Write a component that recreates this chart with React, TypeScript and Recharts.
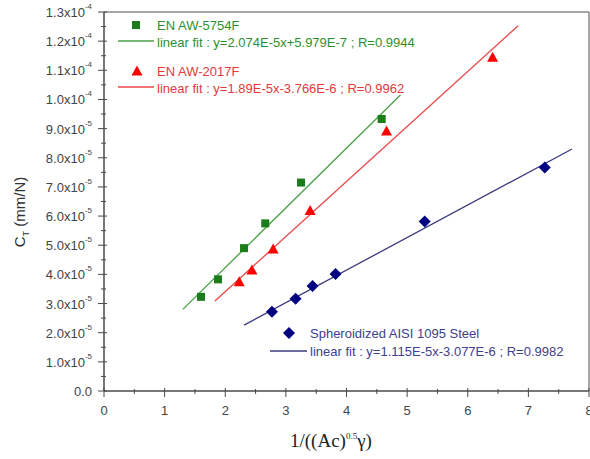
import React from 'react';
import { ScatterChart, Scatter, XAxis, YAxis, ReferenceLine } from 'recharts';

// EN AW-5754F measured points
const al5754X = [1.6, 1.88, 2.31, 2.66, 3.25, 4.58];
const al5754Y = [3.23e-5, 3.83e-5, 4.9e-5, 5.75e-5, 7.15e-5, 9.33e-5];
// EN AW-2017F measured points
const al2017X = [2.23, 2.44, 2.79, 3.4, 4.66, 6.41];
const al2017Y = [3.75e-5, 4.15e-5, 4.87e-5, 6.19e-5, 8.92e-5, 1.145e-4];
// Spheroidized AISI 1095 steel measured points
const steelX = [2.77, 3.16, 3.44, 3.82, 5.29, 7.27];
const steelY = [2.72e-5, 3.16e-5, 3.6e-5, 4.01e-5, 5.81e-5, 7.67e-5];

// fit line end points
const fit5754X = [1.3, 4.89];
const fit5754Y = [2.8e-5, 1.015e-4];
const fit2017X = [1.83, 6.83];
const fit2017Y = [3.09e-5, 1.253e-4];
const fitSteelX = [2.31, 7.72];
const fitSteelY = [2.26e-5, 8.3e-5];

const xMajor = [0, 1, 2, 3, 4, 5, 6, 7, 8];
const yMajor = [0, 1e-5, 2e-5, 3e-5, 4e-5, 5e-5, 6e-5, 7e-5, 8e-5, 9e-5, 1e-4, 1.1e-4, 1.2e-4, 1.3e-4];
const yLabels = [
  ['0.0', ''], ['1.0x10', '-5'], ['2.0x10', '-5'], ['3.0x10', '-5'], ['4.0x10', '-5'],
  ['5.0x10', '-5'], ['6.0x10', '-5'], ['7.0x10', '-5'], ['8.0x10', '-5'], ['9.0x10', '-5'],
  ['1.0x10', '-4'], ['1.1x10', '-4'], ['1.2x10', '-4'], ['1.3x10', '-4'],
];

const toPts = (xs: number[], ys: number[]) => xs.map((x, i) => ({ x, y: ys[i] }));
const halves = (arr: number[]) => {
  const out: number[] = [];
  arr.forEach((v, i) => {
    out.push(v);
    if (i < arr.length - 1) out.push((v + arr[i + 1]) / 2);
  });
  return out;
};

const axisColor = '#4a4a4a';
const labelColor = '#444';
const GREEN = { mark: '#1a7d1a', line: '#4aa04a', text: '#2f8f2f' };
const RED = { mark: '#ff0000', line: '#e8474a', text: '#e03a3a' };
const BLUE = { mark: '#000080', line: '#3b3b80', text: '#40408f' };

const square = (color: string, cx: number, cy: number) => (
  <rect x={cx - 4} y={cy - 4} width={8} height={8} fill={color} />
);
const triangle = (color: string, cx: number, cy: number) => (
  <polygon points={`${cx},${cy - 5.5} ${cx - 5.5},${cy + 4.5} ${cx + 5.5},${cy + 4.5}`} fill={color} />
);
const diamond = (color: string, cx: number, cy: number) => (
  <polygon points={`${cx},${cy - 6} ${cx + 6},${cy} ${cx},${cy + 6} ${cx - 6},${cy}`} fill={color} />
);

// ticks cross the axis line, minor ones shorter
const YTick = (props: any) => {
  const { x, y, payload } = props;
  const i = yMajor.indexOf(payload.value);
  if (i < 0) return <line x1={x - 3} x2={x + 2} y1={y} y2={y} stroke={axisColor} />;
  const [base, exp] = yLabels[i];
  return (
    <g>
      <line x1={x - 6} x2={x + 3} y1={y} y2={y} stroke={axisColor} />
      <text x={x - 12} y={y} textAnchor="end" dominantBaseline="central" fontSize={13} fill={labelColor}>
        <tspan>{base}</tspan>
        {exp ? <tspan dy={-6} fontSize={8}>{exp}</tspan> : null}
      </text>
    </g>
  );
};

const XTick = (props: any) => {
  const { x, y, payload } = props;
  const major = xMajor.includes(payload.value);
  if (!major) return <line x1={x} x2={x} y1={y - 2} y2={y + 3} stroke={axisColor} />;
  return (
    <g>
      <line x1={x} x2={x} y1={y - 3} y2={y + 6} stroke={axisColor} />
      <text x={x} y={y + 19} textAnchor="middle" dominantBaseline="central" fontSize={13} fill={labelColor}>
        {payload.value}
      </text>
    </g>
  );
};

const noDot = () => <g />;

export default function App() {
  return (
    <div style={{ position: 'absolute', left: 0, top: 0, width: 590, height: 459, background: '#fff', fontFamily: '"Liberation Sans", Arial, sans-serif' }}>
      <ScatterChart width={590} height={459} margin={{ top: 12, right: 1, left: 0, bottom: 0 }}>
        <XAxis
          type="number"
          dataKey="x"
          domain={[0, 8]}
          ticks={halves(xMajor)}
          interval={0}
          height={68}
          tickSize={0}
          tickMargin={0}
          tickLine={false}
          tick={XTick}
          axisLine={{ stroke: axisColor, strokeWidth: 1.5 }}
        />
        <YAxis
          type="number"
          dataKey="y"
          domain={[0, 1.3e-4]}
          ticks={halves(yMajor)}
          interval={0}
          width={104}
          tickSize={0}
          tickMargin={0}
          tickLine={false}
          tick={YTick}
          axisLine={{ stroke: axisColor, strokeWidth: 1.5 }}
        />
        <ReferenceLine y={1.3e-4} stroke="#8a8a8a" strokeWidth={1.5} />
        <ReferenceLine x={8} stroke="#8a8a8a" strokeWidth={1.5} />
        <Scatter data={toPts(fit5754X, fit5754Y)} line={{ stroke: GREEN.line, strokeWidth: 1.3 }} shape={noDot} isAnimationActive={false} />
        <Scatter data={toPts(fit2017X, fit2017Y)} line={{ stroke: RED.line, strokeWidth: 1.3 }} shape={noDot} isAnimationActive={false} />
        <Scatter data={toPts(fitSteelX, fitSteelY)} line={{ stroke: BLUE.line, strokeWidth: 1.3 }} shape={noDot} isAnimationActive={false} />
        <Scatter data={toPts(al5754X, al5754Y)} shape={(p: any) => square(GREEN.mark, p.cx, p.cy)} isAnimationActive={false} />
        <Scatter data={toPts(al2017X, al2017Y)} shape={(p: any) => triangle(RED.mark, p.cx, p.cy)} isAnimationActive={false} />
        <Scatter data={toPts(steelX, steelY)} shape={(p: any) => diamond(BLUE.mark, p.cx, p.cy)} isAnimationActive={false} />
      </ScatterChart>
      <svg width={590} height={459} style={{ position: 'absolute', left: 0, top: 0, pointerEvents: 'none' }}>
        <g fontSize={13}>
          {square(GREEN.mark, 136, 25)}
          <text x={157} y={25} dominantBaseline="central" fill={GREEN.text}>EN AW-5754F</text>
          <line x1={118} x2={154} y1={41} y2={41} stroke={GREEN.line} strokeWidth={1.3} />
          <text x={157} y={42} dominantBaseline="central" fill={GREEN.text}>linear fit : y=2.074E-5x+5.979E-7 ; R=0.9944</text>
          {triangle(RED.mark, 137, 71)}
          <text x={157} y={71} dominantBaseline="central" fill={RED.text}>EN AW-2017F</text>
          <line x1={118} x2={154} y1={87} y2={87} stroke={RED.line} strokeWidth={1.3} />
          <text x={157} y={88} dominantBaseline="central" fill={RED.text}>linear fit : y=1.89E-5x-3.766E-6 ; R=0.9962</text>
          {diamond(BLUE.mark, 289, 333)}
          <text x={310} y={333} dominantBaseline="central" fill={BLUE.text}>Spheroidized AISI 1095 Steel</text>
          <line x1={270} x2={307} y1={351} y2={351} stroke={BLUE.line} strokeWidth={1.3} />
          <text x={310} y={351} dominantBaseline="central" fill={BLUE.text}>linear fit : y=1.115E-5x-3.077E-6 ; R=0.9982</text>
        </g>
        <text transform="translate(25,212) rotate(-90)" textAnchor="middle" fontSize={15} fill="#333">
          <tspan>C</tspan>
          <tspan fontSize={9} dy={4}>T</tspan>
          <tspan dy={-4}> (mm/N)</tspan>
        </text>
        <text x={290} y={447} fontFamily='"Liberation Serif", "Times New Roman", serif' fontSize={19} fill="#222">
          <tspan>1/((Ac)</tspan>
          <tspan dy={-8} fontSize={9}>0.5</tspan>
          <tspan dy={8}>γ)</tspan>
        </text>
      </svg>
    </div>
  );
}
